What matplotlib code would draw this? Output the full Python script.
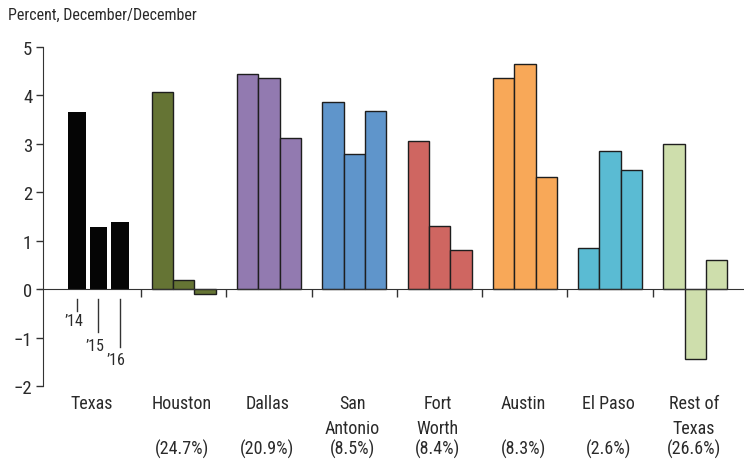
import numpy as np
import matplotlib
matplotlib.use('Agg')
import matplotlib.pyplot as plt
from matplotlib.transforms import blended_transform_factory

plt.rcParams['font.family'] = ['Roboto Condensed', 'Liberation Sans Narrow', 'Liberation Sans', 'DejaVu Sans']

# Data
cities = ['Texas', 'Houston', 'Dallas', 'San\nAntonio', 'Fort\nWorth', 'Austin', 'El Paso', 'Rest of\nTexas']
shares = ['', '(24.7%)', '(20.9%)', '(8.5%)', '(8.4%)', '(8.3%)', '(2.6%)', '(26.6%)']
years = ["’14", "’15", "’16"]
vals_2014 = [3.65, 4.06, 4.44, 3.86, 3.06, 4.36, 0.85, 2.99]
vals_2015 = [1.28, 0.20, 4.36, 2.79, 1.31, 4.65, 2.86, -1.44]
vals_2016 = [1.38, -0.10, 3.12, 3.68, 0.80, 2.31, 2.46, 0.60]
colors = ['#050505', '#657434', '#927ab0', '#5f95cb', '#cf6661', '#f8a858', '#5abbd3', '#cedeac']

txt = '#2a2a2a'
fig = plt.figure(figsize=(7.44, 4.64), dpi=100)
ax = fig.add_axes([43.3 / 744, 1 - 387.3 / 464, 1 - 43.3 / 744, (387.3 - 47.7) / 464])

x = np.arange(len(cities))
step = 0.25
series = [vals_2014, vals_2015, vals_2016]
for j, vals in enumerate(series):
    for i, v in enumerate(vals):
        if i == 0:
            ax.bar(x[i] + (j - 1) * step, v, width=0.21, color=colors[i], edgecolor='none')
        else:
            ax.bar(x[i] + (j - 1) * step, v, width=step, color=colors[i],
                   edgecolor='#1e1e1e', linewidth=1.0)

ax.set_xlim(-0.647, 7.57)
ax.set_ylim(-2, 5)
ax.set_yticks(range(-2, 6))
ax.set_yticklabels(['−2', '−1', '0', '1', '2', '3', '4', '5'])
ax.set_xticks(x[:-1] + 0.5)
ax.set_xticklabels([])
ax.tick_params(axis='y', direction='out', length=5, width=1, colors='#333333',
               labelcolor=txt, labelsize=13.5, pad=3)
ax.tick_params(axis='x', direction='out', length=6, width=1, colors='#333333')
ax.spines['top'].set_visible(False)
ax.spines['right'].set_visible(False)
ax.spines['bottom'].set_position(('data', 0))
ax.spines['left'].set_color('#333333')
ax.spines['bottom'].set_color('#333333')
ax.spines['bottom'].set_bounds(-0.7, 7.57)

# year markers under the Texas bars
line_ends = [-0.44, -0.88, -1.19]
text_y = [-0.65, -1.16, -1.44]
for j, yr in enumerate(years):
    bx = x[0] + (j - 1) * step
    ax.plot([bx, bx], [-0.2, line_ends[j]], color='#333333', lw=1)
    ax.text(bx - 0.04, text_y[j], yr, ha='center', va='center', fontsize=11.5, color=txt)

# category labels below the axis
tr = blended_transform_factory(ax.transData, fig.transFigure)
for i, name in enumerate(cities):
    for k, line in enumerate(name.split('\n')):
        ax.text(x[i] - (0.08 if i == 0 else 0.02), 1 - (409.3 + 25 * k) / 464, line,
                transform=tr, ha='center', va='baseline', fontsize=13, color=txt)
    if shares[i]:
        ax.text(x[i] - 0.02, 1 - 455 / 464, shares[i], transform=tr,
                ha='center', va='baseline', fontsize=13, color=txt)

fig.text(8 / 744, 1 - 19.5 / 464, 'Percent, December/December', ha='left', va='baseline',
         fontsize=11.5, color=txt)

fig.savefig('out.png', dpi=100)
